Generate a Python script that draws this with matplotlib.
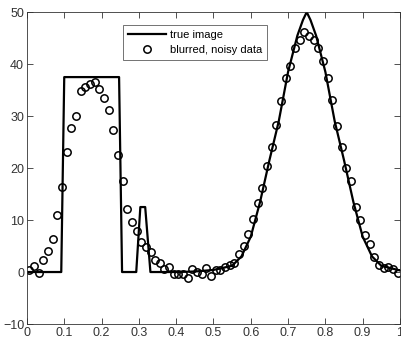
import numpy as np
import matplotlib
matplotlib.use("Agg")
import matplotlib.pyplot as plt

plt.rcParams['font.family'] = ['Liberation Sans', 'DejaVu Sans']

# true image (piecewise linear)
true_x = [0, 0.092, 0.100, 0.247, 0.255, 0.293, 0.304, 0.317, 0.331, 0.40,
          0.45, 0.50, 0.55, 0.575, 0.60, 0.625, 0.65, 0.675, 0.70, 0.725,
          0.74, 0.75, 0.76, 0.775, 0.80, 0.825, 0.85, 0.875, 0.90, 0.925,
          0.95, 1.0]
true_y = [0, 0, 37.5, 37.5, 0, 0, 12.5, 12.5, 0, 0,
          0.1, 0.4, 1.2, 3.0, 6.8, 13.5, 21.5, 29.0, 38.5, 45.5,
          48.5, 50, 48.5, 45.5, 38.5, 29.0, 21.5, 13.5, 6.8, 3.0,
          1.2, 0.3]

# blurred, noisy data, 80 samples at cell midpoints
n_samples = 80
data_y = [0.4, 1.2, -0.1, 2.3, 4.0, 6.3, 11.0, 16.3, 23.0, 27.7,
          30.0, 34.9, 35.6, 36.2, 36.5, 35.3, 33.5, 31.2, 27.3, 22.6,
          17.5, 12.2, 9.7, 7.8, 5.7, 4.8, 3.8, 2.4, 1.8, 0.6,
          1.0, -0.3, -0.3, -0.4, -1.2, 0.6, 0.1, -0.4, 0.7, -0.7,
          0.3, 0.3, 0.9, 1.4, 1.8, 3.4, 5.0, 7.4, 10.2, 13.2,
          16.1, 20.3, 24.0, 28.3, 32.9, 37.4, 39.7, 43.0, 44.6, 46.2,
          45.4, 44.7, 43.0, 40.6, 37.4, 33.0, 28.1, 24.1, 20.0, 17.5,
          12.6, 10.0, 7.1, 5.3, 2.9, 1.3, 0.8, 1.0, 0.5, -0.1]
data_x = (np.arange(n_samples) + 0.5) / n_samples

xticks = [0, 0.1, 0.2, 0.3, 0.4, 0.5, 0.6, 0.7, 0.8, 0.9, 1]
xlabels = ['0', '0.1', '0.2', '0.3', '0.4', '0.5', '0.6', '0.7', '0.8', '0.9', '1']
yticks = [-10, 0, 10, 20, 30, 40, 50]

fig = plt.figure(figsize=(4.02, 3.42), dpi=100)
ax = fig.add_axes([0.067, 0.0526, 0.928, 0.912])

ax.plot(true_x, true_y, color='black', lw=1.6, label='true image')
ax.plot(data_x, data_y, 'o', mfc='none', mec='black', ms=5.3, mew=1.1,
        label='blurred, noisy data')

ax.set_xlim(0, 1)
ax.set_ylim(-10, 50)
ax.set_xticks(xticks)
ax.set_xticklabels(xlabels)
ax.set_yticks(yticks)
ax.tick_params(direction='in', top=True, right=True, length=4, width=0.6,
               labelsize=9, colors='#333333', pad=2)
for s in ax.spines.values():
    s.set_linewidth(0.6)
    s.set_color('#333333')

leg = ax.legend(loc='upper left', bbox_to_anchor=(0.257, 0.958), fontsize=8,
                frameon=True, fancybox=False, edgecolor='#333333',
                borderaxespad=0, handlelength=3.4, borderpad=0.45,
                labelspacing=0.4, handletextpad=0.4)
leg.get_frame().set_linewidth(0.6)

plt.savefig('out.png', dpi=100)
